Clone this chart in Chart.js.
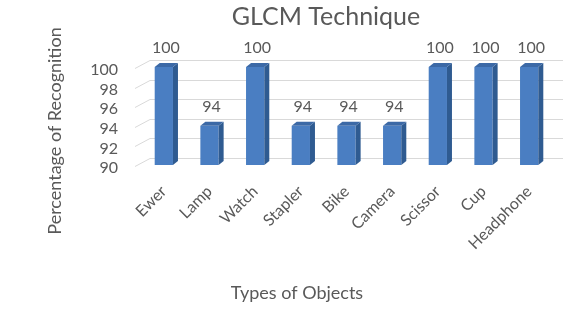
<!DOCTYPE html>
<html>
<head>
<meta charset="utf-8">
<script src="https://cdn.jsdelivr.net/npm/chart.js@4"></script>
<style>
    html, body { margin: 0; padding: 0; background: #ffffff; }
    #wrap { width: 565px; height: 318px; }
</style>
</head>
<body>
<div id="wrap"><canvas id="barChart" width="565" height="318"></canvas></div>
<script>
const objectNames = ['Ewer', 'Lamp', 'Watch', 'Stapler', 'Bike', 'Camera', 'Scissor', 'Cup', 'Headphone'];
const recognition = [100, 94, 100, 94, 94, 94, 100, 100, 100];
const yTicks = [90, 92, 94, 96, 98, 100];

const textColor = '#595959';
const fontName = 'Lato, "Open Sans", sans-serif';

// back wall gridlines with the little floor diagonal, like the excel 3d look
const wallGrid = {
    id: 'wallGrid',
    beforeDatasetsDraw(chart) {
        const ctx = chart.ctx;
        const y = chart.scales.y;
        const area = chart.chartArea;
        ctx.save();
        ctx.strokeStyle = '#d9d9d9';
        ctx.lineWidth = 1;
        yTicks.forEach(v => {
            const py = Math.round(y.getPixelForValue(v)) + 0.5;
            ctx.beginPath();
            ctx.moveTo(area.left - 6, py + 1);
            ctx.lineTo(area.left + 9, py - 7);
            ctx.lineTo(area.right + 11, py - 7);
            ctx.stroke();
        });
        ctx.restore();
    }
};

// side + top faces of each bar, and the value labels
const barDepth = {
    id: 'barDepth',
    afterDatasetsDraw(chart) {
        const ctx = chart.ctx;
        const meta = chart.getDatasetMeta(0);
        const dx = 5, dy = 4;
        ctx.save();
        meta.data.forEach((bar, i) => {
            const p = bar.getProps(['x', 'y', 'base', 'width'], true);
            const l = p.x - p.width / 2, r = p.x + p.width / 2;
            ctx.fillStyle = '#2f5b91';
            ctx.beginPath();
            ctx.moveTo(r, p.y);
            ctx.lineTo(r + dx, p.y - dy);
            ctx.lineTo(r + dx, p.base - dy);
            ctx.lineTo(r, p.base);
            ctx.closePath();
            ctx.fill();
            ctx.fillStyle = '#3c69a6';
            ctx.beginPath();
            ctx.moveTo(l, p.y);
            ctx.lineTo(l + dx, p.y - dy);
            ctx.lineTo(r + dx, p.y - dy);
            ctx.lineTo(r, p.y);
            ctx.closePath();
            ctx.fill();

            ctx.fillStyle = textColor;
            ctx.font = '16px ' + fontName;
            ctx.textAlign = 'center';
            ctx.textBaseline = 'middle';
            ctx.fillText(String(recognition[i]), p.x + 2, p.y - 19);
        });
        ctx.restore();
    }
};

// titles placed like in the original
const titles = {
    id: 'titles',
    afterDraw(chart) {
        const ctx = chart.ctx;
        ctx.save();
        ctx.fillStyle = textColor;
        ctx.textAlign = 'center';
        ctx.textBaseline = 'middle';
        ctx.font = '25px ' + fontName;
        ctx.fillText('GLCM Technique', 326, 17);
        ctx.font = '18px ' + fontName;
        ctx.fillText('Types of Objects', 297, 293);
        ctx.translate(55, 131);
        ctx.rotate(-Math.PI / 2);
        ctx.fillText('Percentage of Recognition', 0, 0);
        ctx.restore();
    }
};

const ctxBar = document.getElementById('barChart').getContext('2d');

const barChart = new Chart(ctxBar, {
    type: 'bar',
    data: {
        labels: objectNames,
        datasets: [{
            data: recognition,
            base: 90,
            backgroundColor: '#4a7ec2',
            borderWidth: 0,
            barPercentage: 0.4,
            categoryPercentage: 1
        }]
    },
    options: {
        responsive: false,
        animation: false,
        layout: {
            padding: { left: 0, right: 13, top: 67, bottom: 0 }
        },
        scales: {
            y: {
                min: 90,
                max: 100,
                afterFit: scale => { scale.width = 141; },
                afterBuildTicks: scale => { scale.ticks = yTicks.map(v => ({ value: v })); },
                grid: { display: false, drawTicks: false },
                border: { display: false },
                ticks: {
                    autoSkip: false,
                    padding: 23,
                    labelOffset: 3,
                    font: { size: 16, family: fontName },
                    color: textColor
                }
            },
            x: {
                afterFit: scale => { scale.height = 153; },
                grid: { display: false },
                border: { display: false },
                ticks: {
                    autoSkip: false,
                    minRotation: 45,
                    maxRotation: 45,
                    padding: 9,
                    font: { size: 16, family: fontName },
                    color: textColor
                }
            }
        },
        plugins: {
            legend: { display: false },
            tooltip: { enabled: false }
        }
    },
    plugins: [wallGrid, barDepth, titles]
});
</script>
</body>
</html>
